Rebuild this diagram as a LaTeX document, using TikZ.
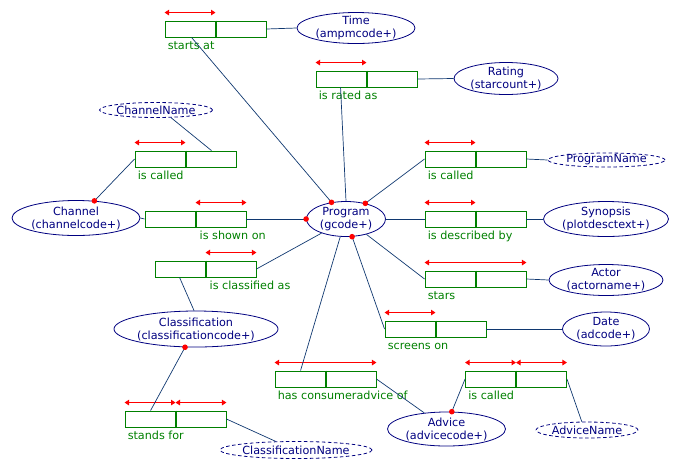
\documentclass[tikz,border=0pt]{standalone}
\usepackage{fontspec}
\setmainfont{DejaVu Sans}
\usetikzlibrary{shapes.geometric,arrows.meta,calc}
\definecolor{navyc}{RGB}{0,0,128}
\definecolor{boxgreen}{RGB}{0,128,0}
\definecolor{linkc}{RGB}{16,56,112}
\definecolor{dotred}{RGB}{255,0,0}
\begin{document}
\begin{tikzpicture}[x=1pt,y=-1pt,
  font=\fontsize{11.2}{13}\selectfont,
  rel/.style={draw=boxgreen, line width=0.9pt, minimum width=101pt, minimum height=16pt, inner sep=0pt, fill=white},
  divider/.style={draw=boxgreen, line width=2pt},
  lab/.style={text=boxgreen, inner sep=0pt, anchor=base west},
  ent/.style={ellipse, draw=navyc, line width=0.8pt, text=navyc, align=center, inner xsep=-6pt, inner ysep=-4pt},
  attr/.style={ent, dashed, dash pattern=on 3.5pt off 2.5pt},
  link/.style={draw=linkc, line width=0.7pt},
  redarr/.style={draw=dotred, line width=1pt, {Triangle[length=4.5pt,width=5.5pt]}-{Triangle[length=4.5pt,width=5.5pt]}},
  dot/.style={circle, fill=dotred, inner sep=0pt, minimum size=5.6pt}
]
\useasboundingbox (0,0) rectangle (690,467);

% relation boxes
\node[rel] (starts) at (215.5,29) {};
\node[rel] (rated) at (366.5,79) {};
\node[rel] (chcalled) at (185.5,159) {};
\node[rel] (shown) at (195.5,219) {};
\node[rel] (classif) at (205.5,269) {};
\node[rel] (stands) at (175.5,419) {};
\node[rel] (consumer) at (325.5,379) {};
\node[rel] (pcalled) at (475.5,159) {};
\node[rel] (described) at (475.5,219) {};
\node[rel] (stars) at (475.5,279) {};
\node[rel] (screens) at (435.5,329) {};
\node[rel] (acalled) at (516,379) {};

\foreach \b in {starts,rated,chcalled,shown,classif,stands,consumer,pcalled,described,stars,screens,acalled}
  \draw[divider] (\b.north) -- (\b.south);

% labels
\node[lab] (lstarts) at ($(starts.south west)+(3,12)$) {starts at};
\node[lab] (lrated) at ($(rated.south west)+(3,12)$) {is rated as};
\node[lab] (lchcalled) at ($(chcalled.south west)+(3,12)$) {is called};
\node[lab] (lshown) at ($(shown.south)+(4,12)$) {is shown on};
\node[lab] (lclassif) at ($(classif.south)+(4,12)$) {is classified as};
\node[lab] (lstands) at ($(stands.south west)+(3,12)$) {stands for};
\node[lab] (lconsumer) at ($(consumer.south west)+(3,12)$) {has consumeradvice of};
\node[lab] (lpcalled) at ($(pcalled.south west)+(3,12)$) {is called};
\node[lab] (ldescribed) at ($(described.south west)+(3,12)$) {is described by};
\node[lab] (lstars) at ($(stars.south west)+(3,12)$) {stars};
\node[lab] (lscreens) at ($(screens.south west)+(3,12)$) {screens on};
\node[lab] (lacalled) at ($(acalled.south west)+(3,12)$) {is called};

% cardinality arrows
\draw[redarr] ($(starts.north west)+(0,-8)$) -- ($(starts.north)+(0,-8)$);
\draw[redarr] ($(rated.north west)+(0,-8)$) -- ($(rated.north)+(0,-8)$);
\draw[redarr] ($(chcalled.north west)+(0,-8)$) -- ($(chcalled.north)+(0,-8)$);
\draw[redarr] ($(shown.north)+(0,-8)$) -- ($(shown.north east)+(0,-8)$);
\draw[redarr] ($(classif.north)+(0,-8)$) -- ($(classif.north east)+(0,-8)$);
\draw[redarr] ($(stands.north west)+(0,-8)$) -- ($(stands.north)+(0,-8)$);
\draw[redarr] ($(stands.north)+(0,-8)$) -- ($(stands.north east)+(0,-8)$);
\draw[redarr] ($(consumer.north west)+(0,-8)$) -- ($(consumer.north east)+(0,-8)$);
\draw[redarr] ($(pcalled.north west)+(0,-8)$) -- ($(pcalled.north)+(0,-8)$);
\draw[redarr] ($(described.north west)+(0,-8)$) -- ($(described.north)+(0,-8)$);
\draw[redarr] ($(stars.north west)+(0,-8)$) -- ($(stars.north east)+(0,-8)$);
\draw[redarr] ($(screens.north west)+(0,-8)$) -- ($(screens.north)+(0,-8)$);
\draw[redarr] ($(acalled.north west)+(0,-8)$) -- ($(acalled.north)+(0,-8)$);
\draw[redarr] ($(acalled.north)+(0,-8)$) -- ($(acalled.north east)+(0,-8)$);

% entities
\node[ent, minimum width=118pt, minimum height=31pt] (time) at (356,28) {Time\\(ampmcode+)};
\node[ent, minimum width=104pt, minimum height=32pt] (rating) at (506,78.5) {Rating\\(starcount+)};
\node[attr, minimum width=113pt, minimum height=15pt] (chname) at (156,110) {ChannelName};
\node[ent, minimum width=128pt, minimum height=35pt] (channel) at (76,218) {Channel\\(channelcode+)};
\node[ent, minimum width=79pt, minimum height=35pt] (prog) at (346,219) {Program\\(gcode+)};
\node[attr, minimum width=117pt, minimum height=14pt] (pname) at (606.5,160) {ProgramName};
\node[ent, minimum width=125pt, minimum height=35pt] (synopsis) at (606,219) {Synopsis\\(plotdesctext+)};
\node[ent, minimum width=114pt, minimum height=31pt] (actor) at (606,280) {Actor\\(actorname+)};
\node[ent, minimum width=87pt, minimum height=34pt] (date) at (606,329) {Date\\(adcode+)};
\node[ent, minimum width=164pt, minimum height=36pt] (classn) at (196,329) {Classification\\(classificationcode+)};
\node[ent, minimum width=118pt, minimum height=34pt] (advice) at (446.5,429) {Advice\\(advicecode+)};
\node[attr, minimum width=102pt, minimum height=16pt] (aname) at (587,430) {AdviceName};
\node[attr, minimum width=152pt, minimum height=17pt] (clname) at (296,450) {ClassificationName};

% connectors
\draw[link] ($(starts.south west)+(27,0)$) -- (prog.131);
\draw[link] (starts.east) -- (time.west);
\draw[link] ($(rated.south west)+(25,0)$) -- (prog.north);
\draw[link] (rated.east) -- (rating.west);
\draw[link] (chname.333) -- ($(chcalled.north east)+(-25,0)$);
\draw[link] (chcalled.west) -- (channel.43);
\draw[link] (channel.east) -- (shown.west);
\draw[link] (shown.east) -- (prog.west);
\draw[link] (classif.east) -- (prog.210);
\draw[link] ($(classif.south west)+(25,0)$) -- (classn.96);
\draw[link] (classn.239) -- ($(stands.north west)+(26,0)$);
\draw[link] (stands.east) -- (clname.157);
\draw[link] (prog.252) -- ($(consumer.north west)+(26,0)$);
\draw[link] (consumer.east) -- (advice.144);
\draw[link] (prog.289) -- (screens.west);
\draw[link] (screens.east) -- (date.west);
\draw[link] (advice.73) -- (acalled.west);
\draw[link] (acalled.east) -- (aname.122);
\draw[link] (prog.323) -- (stars.west);
\draw[link] (stars.east) -- (actor.west);
\draw[link] (prog.east) -- (described.west);
\draw[link] (described.east) -- (synopsis.west);
\draw[link] (prog.39) -- (pcalled.west);
\draw[link] (pcalled.east) -- (pname.west);

% participation dots
\node[dot] (d1) at (prog.131) {};
\node[dot] (d2) at (prog.39) {};
\node[dot] (d3) at (prog.west) {};
\node[dot] (d4) at (prog.289) {};
\node[dot] (d5) at (channel.43) {};
\node[dot] (d6) at (classn.239) {};
\node[dot] (d7) at (advice.73) {};
\end{tikzpicture}
\end{document}
